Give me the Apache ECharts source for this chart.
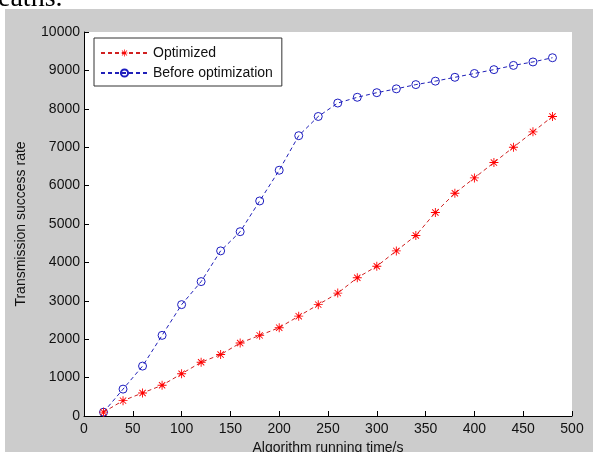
<!DOCTYPE html>
<html>
<head>
<meta charset="utf-8">
<script src="https://cdn.jsdelivr.net/npm/echarts@6/dist/echarts.min.js"></script>
<style>
  html, body { margin: 0; padding: 0; background: #fff; }
  #chart { width: 593px; height: 452px; }
</style>
</head>
<body>
<div id="chart"></div>
<script>
// running time (s)
const times = [20, 40, 60, 80, 100, 120, 140, 160, 180, 200, 220, 240, 260, 280, 300, 320, 340, 360, 380, 400, 420, 440, 460, 480]
const optimized = [100, 400, 600, 800, 1100, 1400, 1600, 1900, 2100, 2300, 2600, 2900, 3200, 3600, 3900, 4300, 4700, 5300, 5800, 6200, 6600, 7000, 7400, 7800]
const beforeOpt = [100, 700, 1300, 2100, 2900, 3500, 4300, 4800, 5600, 6400, 7300, 7800, 8150, 8300, 8420, 8520, 8630, 8720, 8820, 8920, 9020, 9130, 9220, 9330]

const seriesNames = ['Optimized', 'Before optimization']

// matlab style asterisk marker
const starPath = 'path://M4.5,0 L5.5,0 L5.5,10 L4.5,10 Z M0,4.5 L10,4.5 L10,5.5 L0,5.5 Z ' +
  'M1.85,1.15 L8.85,8.15 L8.15,8.85 L1.15,1.85 Z M8.85,1.85 L1.85,8.85 L1.15,8.15 L8.15,1.15 Z'

const font = 'Liberation Sans, Arial, sans-serif'

const chart = echarts.init(document.getElementById('chart'))

const option = {
  backgroundColor: '#cccccc',
  animation: false,
  graphic: [
    { type: 'rect', left: 0, top: 0, shape: { width: 593, height: 9 }, style: { fill: '#fff' } },
    { type: 'rect', left: 0, top: 0, shape: { width: 5, height: 452 }, style: { fill: '#fff' } },
    {
      type: 'text', x: -2, y: 13,
      style: { text: 'eaths.', font: '28px "Liberation Serif", serif', fill: '#000', verticalAlign: 'bottom' }
    }
  ],
  grid: {
    left: 84, right: 21, top: 32, bottom: 36,
    outerBoundsMode: 'none',
    show: true, backgroundColor: '#fff', borderWidth: 0
  },
  legend: {
    orient: 'vertical',
    left: 94, top: 38,
    data: seriesNames,
    backgroundColor: '#fff',
    borderColor: '#333',
    borderWidth: 1,
    borderRadius: 0,
    padding: [8, 9, 6, 6],
    itemGap: 6,
    itemWidth: 47,
    itemHeight: 9,
    textStyle: { fontFamily: font, fontSize: 14, color: '#111' }
  },
  xAxis: {
    type: 'value',
    min: 0, max: 500, interval: 50,
    name: 'Algorithm running time/s',
    nameLocation: 'middle',
    nameGap: 25,
    nameTextStyle: { fontFamily: font, fontSize: 14, color: '#111' },
    axisLine: { lineStyle: { color: '#000', width: 1 } },
    axisTick: { show: true, inside: true, length: 5, lineStyle: { color: '#000' } },
    axisLabel: { fontFamily: font, fontSize: 14, color: '#111', margin: 6 },
    splitLine: { show: false }
  },
  yAxis: {
    type: 'value',
    min: 0, max: 10000, interval: 1000,
    name: 'Transmission success rate',
    nameLocation: 'middle',
    nameGap: 56,
    nameTextStyle: { fontFamily: font, fontSize: 14, color: '#111' },
    axisLine: { show: true, lineStyle: { color: '#000', width: 1 } },
    axisTick: { show: true, inside: true, length: 5, lineStyle: { color: '#000' } },
    axisLabel: { fontFamily: font, fontSize: 14, color: '#111', margin: 4, formatter: v => String(v) },
    splitLine: { show: false }
  },
  series: [
    {
      name: seriesNames[0],
      type: 'line',
      data: times.map((t, i) => [t, optimized[i]]),
      symbol: starPath,
      symbolSize: 9,
      lineStyle: { color: '#d02020', width: 1, type: [4, 3] },
      itemStyle: { color: '#ff0000' },
      z: 3
    },
    {
      name: seriesNames[1],
      type: 'line',
      data: times.map((t, i) => [t, beforeOpt[i]]),
      symbol: 'circle',
      symbolSize: 8,
      lineStyle: { color: '#2020b8', width: 1, type: [4, 3] },
      itemStyle: { color: 'rgba(0,0,0,0)', borderColor: '#1c1cc0', borderWidth: 1 },
      z: 2
    }
  ]
}
option && chart.setOption(option)
window.addEventListener('resize', () => {
  chart.resize()
})
</script>
</body>
</html>
